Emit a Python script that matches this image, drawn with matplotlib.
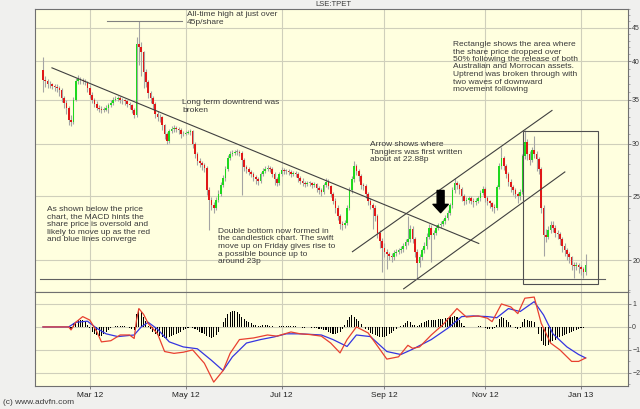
import numpy as np
import pandas as pd
import matplotlib
matplotlib.use('Agg')
import matplotlib.pyplot as plt
from matplotlib.patches import Rectangle
from matplotlib.ticker import FixedLocator, NullFormatter

plt.rcParams['font.family'] = ['Liberation Sans', 'DejaVu Sans']

# trading days (LSE holidays removed)
holidays = ['2012-04-06', '2012-04-09', '2012-05-07', '2012-06-04', '2012-06-05',
            '2012-08-27', '2012-12-25', '2012-12-26', '2013-01-01']
dates = pd.bdate_range('2012-02-02', '2013-01-04')
dates = dates[~dates.isin(pd.to_datetime(holidays))]

first_open = 38.8
closes = [
    37.5, 37.3, 37.0, 36.9, 36.7, 36.6, 36.4, 36.2, 35.2, 34.6,
    34.0, 32.6, 32.4, 35.0, 37.3, 37.6, 37.5, 37.4, 37.2, 36.5,
    35.6, 35.0, 34.5, 34.0, 33.9, 33.8, 33.8, 34.0, 34.3, 34.6,
    35.0, 35.1, 35.2, 34.9, 34.9, 34.8, 34.5, 34.3, 33.8, 33.2,
    42.5, 42.0, 41.3, 38.5, 37.2, 35.8, 35.2, 34.5, 33.3, 33.0,
    32.9, 32.0, 31.0, 30.3, 31.4, 31.6, 31.7, 31.6, 31.5, 31.0,
    31.1, 31.2, 31.3, 31.4, 30.0, 29.0, 28.3, 28.1, 27.9, 27.6,
    25.5, 24.7, 24.2, 24.0, 24.7, 25.2, 26.0, 26.6, 27.5, 28.6,
    29.0, 29.1, 29.2, 29.2, 29.1, 28.4, 27.7, 27.5, 27.2, 27.0,
    26.7, 26.5, 26.4, 27.0, 27.3, 27.5, 27.6, 27.5, 27.0, 26.5,
    26.2, 27.0, 27.4, 27.3, 27.3, 27.2, 27.0, 27.1, 27.0, 26.6,
    26.4, 26.2, 26.1, 26.2, 26.2, 26.0, 26.1, 25.7, 25.5, 25.4,
    26.0, 26.3, 25.9, 25.2, 24.6, 24.0, 23.3, 22.7, 22.6, 22.8,
    24.0, 25.5, 26.5, 27.8, 27.3, 26.8, 26.0, 25.9, 25.2, 24.6,
    24.2, 24.0, 23.3, 22.0, 21.4, 20.9, 20.6, 20.4, 20.3, 20.2,
    20.5, 20.6, 20.7, 20.8, 21.0, 21.3, 21.5, 22.3, 21.5, 20.6,
    19.8, 20.2, 20.7, 21.0, 21.7, 22.4, 21.8, 22.0, 22.4, 22.6,
    22.7, 22.9, 23.2, 23.6, 24.2, 25.5, 26.2, 26.0, 25.6, 25.0,
    24.6, 24.7, 24.8, 24.6, 24.5, 24.6, 24.8, 25.3, 25.6, 24.8,
    24.6, 24.4, 24.1, 24.0, 25.8, 27.8, 28.6, 27.8, 27.0, 26.3,
    25.8, 25.5, 25.2, 25.0, 25.4, 28.8, 30.2, 29.0, 28.4, 29.4,
    29.0, 28.5, 27.5, 24.0, 21.8, 21.7, 22.2, 22.6, 22.4, 22.0,
    21.9, 21.5, 21.0, 20.7, 20.4, 20.2, 19.7, 19.6, 19.7, 19.5,
    19.4, 19.2, 19.7,
]
highs = [
    40.6, 38.0, 37.6, 37.3, 37.1, 37.0, 36.9, 36.7, 36.4, 35.5,
    34.9, 34.2, 33.2, 35.3, 37.8, 38.1, 37.9, 37.8, 37.6, 37.4,
    36.8, 35.9, 35.2, 34.8, 34.3, 34.2, 34.1, 34.3, 34.6, 34.9,
    35.3, 35.4, 35.5, 35.4, 35.2, 35.1, 35.0, 34.7, 34.5, 34.0,
    43.5, 46.1, 42.8, 41.5, 39.0, 37.5, 36.1, 35.5, 34.7, 33.6,
    33.3, 33.1, 32.2, 31.3, 31.6, 31.9, 32.0, 31.9, 31.8, 31.7,
    31.4, 31.4, 31.5, 31.6, 31.5, 30.2, 29.2, 28.6, 28.3, 28.1,
    27.8, 25.8, 24.9, 24.5, 24.9, 25.5, 26.3, 26.9, 27.8, 28.9,
    29.3, 29.4, 29.4, 29.5, 29.4, 29.3, 28.6, 27.9, 27.7, 27.4,
    27.2, 26.9, 26.7, 27.2, 27.6, 27.8, 27.9, 27.8, 27.7, 27.2,
    26.7, 27.2, 27.7, 27.6, 27.5, 27.5, 27.4, 27.3, 27.3, 27.2,
    26.8, 26.6, 26.4, 26.4, 26.4, 26.3, 26.3, 26.2, 25.9, 25.7,
    26.2, 26.6, 26.5, 26.0, 25.4, 24.8, 24.2, 23.5, 22.9, 23.0,
    24.2, 25.8, 26.8, 28.3, 28.0, 27.5, 27.0, 26.2, 26.1, 25.4,
    24.8, 24.4, 24.2, 23.5, 22.2, 21.6, 21.2, 20.8, 20.6, 20.5,
    20.7, 20.8, 20.9, 21.0, 21.2, 21.5, 23.3, 22.6, 22.5, 21.7,
    20.8, 20.4, 20.9, 21.3, 22.0, 22.7, 22.6, 22.2, 22.6, 22.8,
    22.9, 23.1, 23.4, 23.8, 24.4, 25.8, 26.6, 26.4, 26.2, 25.8,
    25.2, 24.9, 25.0, 25.0, 24.8, 24.8, 25.0, 25.5, 25.9, 25.8,
    25.0, 24.7, 24.5, 24.3, 26.0, 28.1, 29.7, 28.8, 28.0, 27.2,
    26.5, 26.0, 25.7, 25.4, 25.6, 29.0, 31.5, 30.5, 29.3, 29.7,
    30.8, 29.3, 28.7, 27.7, 24.2, 22.3, 22.5, 22.9, 22.9, 22.6,
    22.2, 22.1, 21.7, 21.2, 20.9, 20.6, 20.3, 19.9, 19.9, 19.8,
    19.7, 19.5, 20.4,
]
lows = [
    36.0, 36.6, 36.5, 36.5, 36.3, 36.1, 35.9, 35.5, 34.7, 34.0,
    33.3, 32.0, 31.9, 32.2, 34.8, 37.0, 37.0, 37.0, 36.8, 36.0,
    35.2, 34.6, 34.1, 33.7, 33.5, 33.4, 33.5, 33.6, 33.4, 34.1,
    34.4, 34.8, 34.8, 34.6, 34.5, 34.3, 34.1, 33.9, 33.4, 32.8,
    33.0, 39.5, 38.0, 36.5, 36.6, 35.2, 34.6, 33.9, 32.8, 32.5,
    32.4, 31.5, 30.5, 30.0, 30.1, 31.2, 31.3, 31.3, 31.1, 30.6,
    30.8, 30.9, 31.0, 30.9, 29.6, 28.6, 27.9, 27.7, 27.4, 27.2,
    25.1, 22.2, 23.8, 23.6, 23.8, 24.5, 25.0, 25.8, 26.4, 27.3,
    28.4, 28.8, 28.9, 28.9, 28.8, 25.1, 27.3, 27.1, 26.9, 26.7,
    26.4, 26.1, 26.0, 26.2, 26.8, 27.1, 27.3, 27.2, 26.7, 26.0,
    25.9, 26.0, 26.8, 27.0, 27.0, 26.9, 26.7, 26.8, 26.7, 26.3,
    26.1, 25.9, 25.8, 25.9, 25.9, 25.7, 25.8, 25.4, 25.2, 25.0,
    25.2, 25.8, 25.6, 24.9, 24.3, 23.6, 23.0, 22.3, 22.2, 22.4,
    22.6, 23.8, 25.3, 26.3, 26.9, 26.4, 25.6, 25.5, 24.8, 24.2,
    23.9, 22.3, 22.9, 21.6, 20.9, 19.2, 20.2, 19.4, 20.0, 19.9,
    20.0, 20.3, 20.4, 20.5, 20.6, 20.8, 21.1, 21.3, 21.2, 20.2,
    18.75, 19.5, 20.0, 20.5, 20.8, 21.5, 19.9, 21.5, 21.8, 22.2,
    22.4, 22.5, 22.7, 23.0, 23.4, 24.0, 25.3, 25.6, 25.2, 24.6,
    24.2, 24.3, 24.4, 24.3, 24.1, 24.2, 24.4, 24.6, 25.1, 24.5,
    24.2, 24.0, 23.7, 23.6, 23.8, 25.6, 27.5, 27.4, 26.6, 25.9,
    25.4, 25.1, 24.8, 24.4, 24.7, 25.2, 28.5, 28.4, 27.9, 28.2,
    28.6, 27.3, 27.0, 23.6, 20.3, 21.3, 21.5, 22.0, 22.1, 21.7,
    21.5, 21.1, 20.6, 20.3, 20.0, 19.8, 19.3, 18.8, 19.3, 19.1,
    19.0, 18.8, 19.0,
]

# MACD lines, read at points along the curves (bar index, value)
macd_idx = [0, 11, 12, 14, 17, 20, 23, 25, 29, 33, 37, 39, 40, 41, 43, 45, 49, 52,
            56, 60, 64, 69, 73, 77, 80, 84, 90, 96, 100, 106, 110, 114, 119, 123,
            127, 130, 134, 139, 143, 147, 152, 156, 158, 161, 166, 171, 177, 181,
            186, 190, 192, 196, 200, 203, 206, 210, 213, 217, 221, 226, 229, 232]
macd_val = [0, 0, -0.13, 0.2, 0.45, 0.3, -0.2, -0.65, -0.6, -0.35, -0.35, -0.5, 0.3,
            0.8, 0.55, 0.15, -0.3, -1.07, -1.15, -1.1, -1.0, -1.58, -2.4, -1.9, -1.15,
            -0.55, -0.48, -0.35, -0.4, -0.22, -0.3, -0.33, -0.4, -0.7, -1.13, -0.55,
            0.0, -0.26, -0.83, -1.4, -1.3, -0.8, -0.93, -0.87, -0.35, 0.1, 0.8, 0.43,
            0.48, 0.38, 0.23, 1.0, 0.87, 0.58, 1.25, 1.3, 0.16, -0.7, -1.0, -1.5,
            -1.5, -1.35]
signal_idx = [0, 11, 14, 19, 23, 27, 32, 39, 42, 45, 49, 54, 60, 66, 72, 77, 81, 87,
              93, 99, 104, 110, 119, 124, 130, 134, 140, 147, 153, 158, 166, 173,
              179, 184, 190, 194, 199, 204, 210, 214, 218, 224, 229, 232]
signal_val = [0, 0, 0.2, 0.25, -0.06, -0.3, -0.42, -0.35, 0.0, 0.2, -0.1, -0.65,
              -0.87, -0.95, -1.45, -1.9, -1.3, -0.7, -0.55, -0.43, -0.3, -0.3, -0.35,
              -0.55, -0.85, -0.35, -0.42, -1.07, -1.2, -0.97, -0.55, -0.06, 0.45,
              0.48, 0.45, 0.4, 0.8, 0.67, 1.1, 0.52, -0.3, -0.87, -1.2, -1.35]
hist = [
    0, 0, 0, 0, 0, 0, 0, 0, 0, 0,
    0, 0, -0.1, 0.15, 0.2, 0.3, 0.3, 0.28, 0.2, 0.1,
    -0.05, -0.2, -0.3, -0.35, -0.4, -0.38, -0.3, -0.2, -0.12, -0.05,
    0.0, 0.03, 0.05, 0.05, 0.04, 0.02, 0.0, -0.05, -0.1, -0.15,
    0.55, 0.8, 0.65, 0.45, 0.25, 0.05, -0.1, -0.2, -0.3, -0.35,
    -0.4, -0.45, -0.5, -0.5, -0.45, -0.4, -0.35, -0.3, -0.25, -0.2,
    -0.15, -0.1, -0.05, -0.02, -0.05, -0.1, -0.15, -0.2, -0.25, -0.3,
    -0.4, -0.45, -0.5, -0.45, -0.35, -0.2, 0.0, 0.2, 0.4, 0.55,
    0.65, 0.7, 0.7, 0.65, 0.55, 0.45, 0.35, 0.25, 0.2, 0.15,
    0.1, 0.08, 0.05, 0.05, 0.08, 0.1, 0.08, 0.05, 0.02, 0.0,
    -0.02, 0.02, 0.05, 0.06, 0.05, 0.05, 0.04, 0.03, 0.02, 0.0,
    -0.02, -0.03, -0.03, -0.02, -0.02, -0.03, -0.03, -0.05, -0.08, -0.1,
    -0.12, -0.15, -0.2, -0.25, -0.3, -0.3, -0.28, -0.22, -0.1, 0.1,
    0.3, 0.45, 0.5, 0.45, 0.35, 0.25, 0.12, 0.0, -0.1, -0.15,
    -0.25, -0.3, -0.35, -0.4, -0.42, -0.45, -0.42, -0.38, -0.32, -0.25,
    -0.18, -0.1, -0.02, 0.05, 0.1, 0.15, 0.25, 0.2, 0.1, 0.08,
    0.05, 0.08, 0.15, 0.2, 0.25, 0.28, 0.3, 0.3, 0.32, 0.33,
    0.35, 0.35, 0.38, 0.4, 0.42, 0.45, 0.48, 0.45, 0.3, 0.15,
    0.05, 0.0, -0.02, -0.02, 0.0, 0.0, 0.02, 0.02, 0.0, -0.05,
    -0.08, -0.1, -0.1, -0.05, 0.1, 0.35, 0.45, 0.4, 0.3, 0.2,
    0.1, 0.0, -0.05, -0.1, -0.05, 0.2, 0.35, 0.3, 0.25, 0.25,
    0.2, 0.0, -0.3, -0.6, -0.8, -0.85, -0.8, -0.7, -0.6, -0.55,
    -0.5, -0.45, -0.4, -0.35, -0.3, -0.25, -0.2, -0.17, -0.13, -0.1,
    -0.06, -0.03, 0.0,
]

month_starts = ['2012-03-01', '2012-05-01', '2012-07-01', '2012-09-01', '2012-11-01', '2013-01-01']
month_labels = ['Mar 12', 'May 12', 'Jul 12', 'Sep 12', 'Nov 12', 'Jan 13']
price_ticks = [20, 25, 30, 35, 40, 45]
macd_ticks = [-2, -1, 0, 1]

# ---- layout (pixels of a 640x409 picture) ----
W, H = 640, 409
fig = plt.figure(figsize=(6.4, 4.09), dpi=100, facecolor='#f0f0ee')
ax = fig.add_axes([35 / W, 1 - 292 / H, 593 / W, 283 / H])
ax2 = fig.add_axes([35 / W, 1 - 386 / H, 593 / W, 94 / H], sharex=ax)

grid_c = '#cfcfbb'
txt_c = '#3a3a3a'
for a in (ax, ax2):
    a.set_facecolor('#ffffdf')
    a.set_axisbelow(True)
    for s in a.spines.values():
        s.set_color('#707070')
        s.set_linewidth(0.8)
    a.yaxis.tick_right()
    a.tick_params(axis='y', which='major', length=2.5, width=0.6, colors='#707070',
                  labelsize=5, labelcolor=txt_c, pad=0.5)
    a.tick_params(axis='y', which='minor', length=1.5, width=0.5, colors='#909090')
    a.grid(True, which='major', color=grid_c, lw=0.8)

x = np.arange(len(closes))
c = np.array(closes)
o = np.r_[first_open, c[:-1]]
lo_body = np.minimum(o, c)
body_h = np.maximum(np.abs(c - o), 0.08)
colors = np.where(c > o, '#1ed81e', np.where(c < o, '#e01818', '#909090'))

ax.vlines(x, lows, highs, color='#a4a4a4', lw=0.8, zorder=2)
ax.bar(x, body_h, bottom=lo_body, width=0.7, color=colors, linewidth=0, zorder=3)

ax.set_yscale('log')
ax.set_ylim(17.9, 48.0)
ax.set_xlim(-3.4, 250.1)
ax.yaxis.set_major_locator(FixedLocator(price_ticks))
ax.yaxis.set_major_formatter(plt.FixedFormatter([str(t) for t in price_ticks]))
ax.yaxis.set_minor_locator(FixedLocator([v for v in range(18, 49) if v not in price_ticks]))
ax.yaxis.set_minor_formatter(NullFormatter())

tick_pos = [int(np.argmax(dates >= pd.Timestamp(m))) for m in month_starts]
ax.set_xticks(tick_pos)
ax.tick_params(axis='x', length=0, labelbottom=False)

# annotation lines
line_c = '#404040'
ax.plot([3.85, 186.3], [39.1, 21.2], color=line_c, lw=0.8, zorder=4)
ax.plot([132.3, 217.6], [20.6, 33.7], color=line_c, lw=0.8, zorder=4)
ax.plot([154.2, 223.1], [18.1, 27.2], color=line_c, lw=0.8, zorder=4)
ax.plot([-1.3, 240.3], [18.75, 18.75], color='#606060', lw=0.8, zorder=4)
ax.plot([27.4, 59.5], [46.1, 46.1], color='#808080', lw=0.8, zorder=4)
ax.add_patch(Rectangle((205.1, 18.4), 32.2, 13.0, fill=False, ec='#505050', lw=0.8, zorder=4))
ax.annotate('', xy=(170, 23.6), xytext=(170, 25.5),
            arrowprops=dict(arrowstyle='simple,head_width=1.1,head_length=0.6,tail_width=0.5',
                            color='black', shrinkA=0, shrinkB=0), zorder=5)

# MACD panel
ax2.bar(x, hist, width=0.45, color='black', linewidth=0, zorder=2)
ax2.plot(signal_idx, signal_val, color='#3535e0', lw=0.9, zorder=3)
ax2.plot(macd_idx, macd_val, color='#e84030', lw=0.9, zorder=4)
ax2.set_ylim(-2.57, 1.52)
ax2.yaxis.set_major_locator(FixedLocator(macd_ticks))
ax2.yaxis.set_minor_locator(FixedLocator([-2.5, -1.5, -0.5, 0.5, 1.5]))
ax2.yaxis.set_minor_formatter(NullFormatter())
ax2.set_xticks(tick_pos)
ax2.set_xticklabels(month_labels)
ax2.tick_params(axis='x', length=2, width=0.6, colors='#707070', labelsize=6,
                labelcolor='#222222', pad=2)

# texts
def note(px, py, s):
    fig.text(px / W, 1 - py / H, s, fontsize=6, color=txt_c, va='top', ha='left',
             linespacing=1.1)

note(187, 11, 'All-time high at just over\n45p/share')
note(182, 99, 'Long term downtrend was\nbroken')
note(453, 41, 'Rectangle shows the area where\nthe share price dropped over\n'
              '50% following the release of both\nAustralian and Morrocan assets.\n'
              'Uptrend was broken through with\ntwo waves of downward\nmovement following')
note(370, 141, 'Arrow shows where\nTangiers was first written\nabout at 22.88p')
note(218, 228, 'Double bottom now formed in\nthe candlestick chart. The swift\n'
               'move up on Friday gives rise to\na possible bounce up to\naround 23p')
note(47, 206, 'As shown below the price\nchart, the MACD hints the\nshare price is oversold and\n'
              'likely to move up as the red\nand blue lines converge')

fig.text(333 / W, 1 - 5 / H, 'LSE:TPET', fontsize=5.5, color=txt_c, ha='center', va='center')
fig.text(3 / W, 1 - 403 / H, '(c) www.advfn.com', fontsize=6, color=txt_c, ha='left', va='center')

fig.savefig('out.png', dpi=100, facecolor=fig.get_facecolor())
